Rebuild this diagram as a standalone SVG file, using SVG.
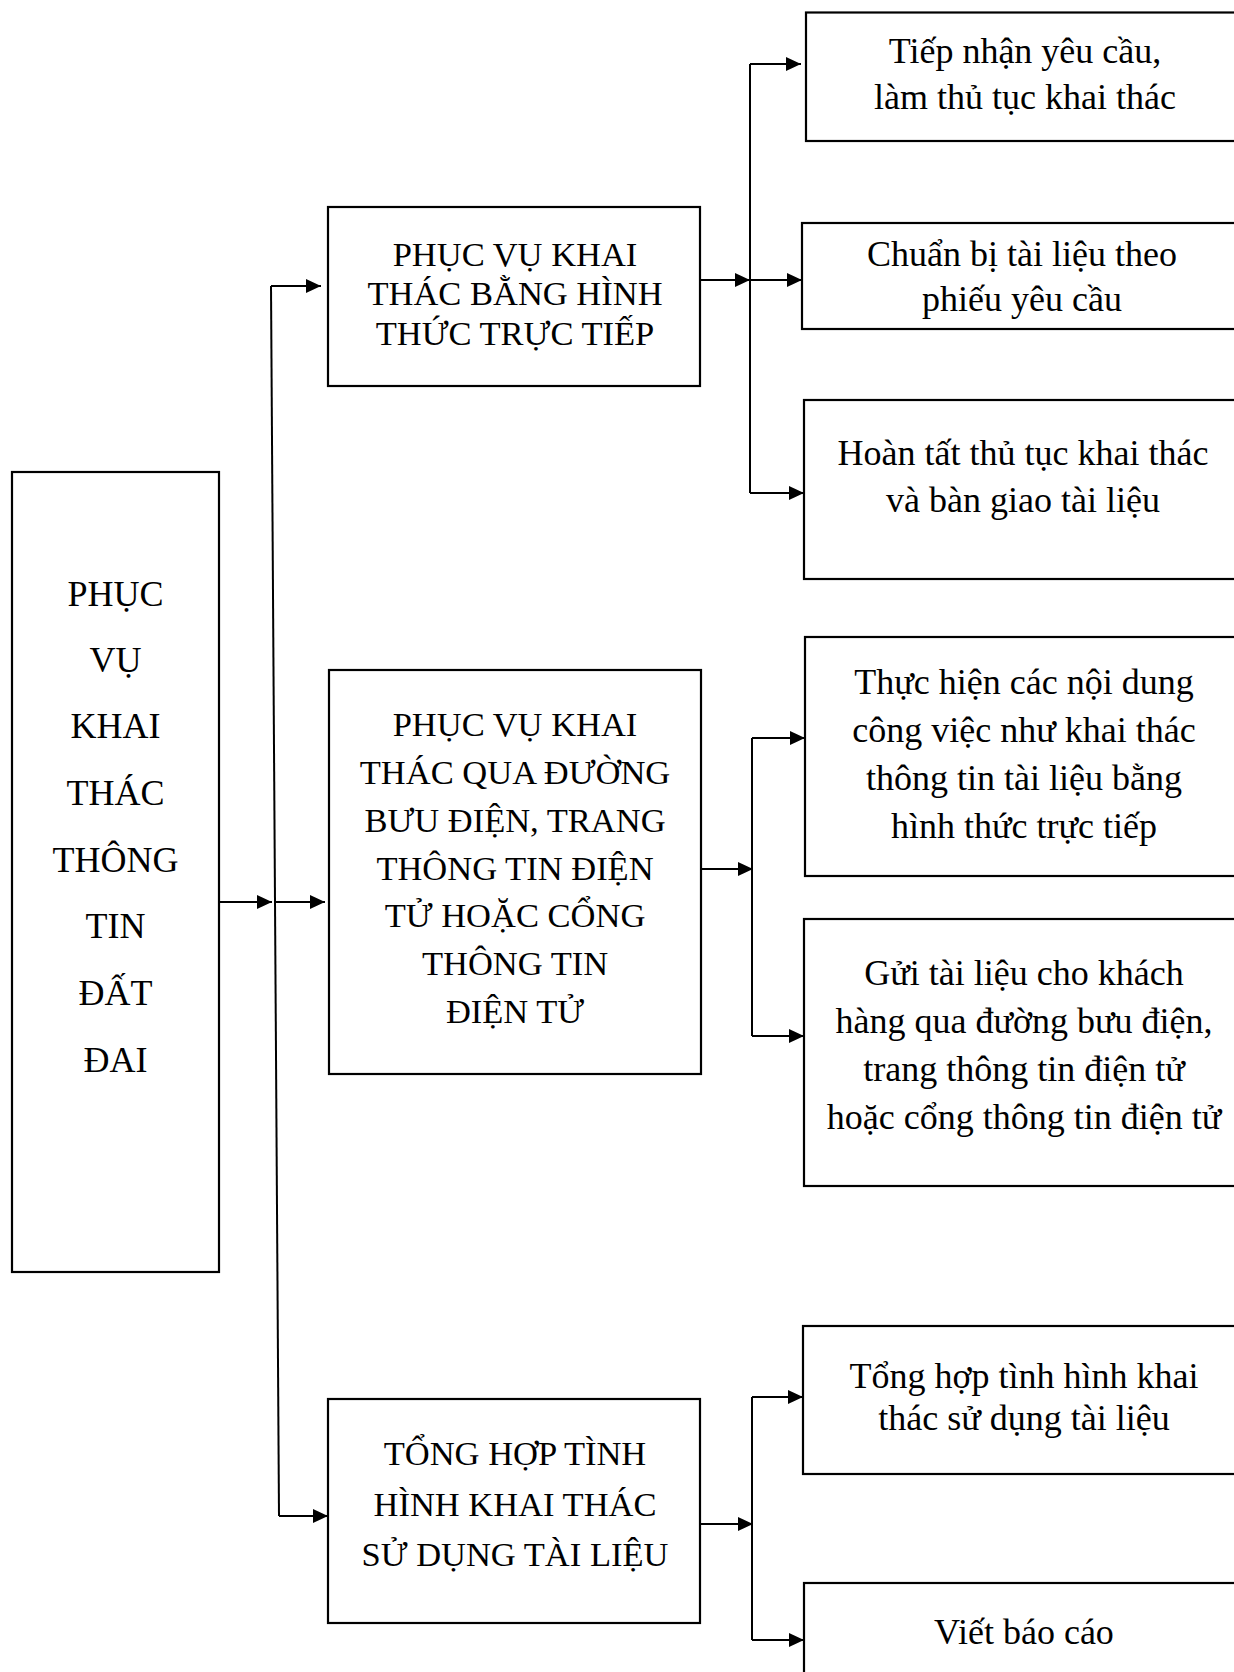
<svg xmlns="http://www.w3.org/2000/svg" width="1234" height="1672" viewBox="0 0 1234 1672">
<style>
.box{fill:#fff;stroke:#000;stroke-width:2.2}
.ln{fill:none;stroke:#000;stroke-width:2}
.t{font-family:"Liberation Serif","Times New Roman",serif;fill:#000;text-anchor:middle}
.up{font-size:34.5px}
.lo{font-size:36px}
.big{font-size:36px}
</style>
<defs>
<marker id="ah" markerUnits="userSpaceOnUse" markerWidth="16" markerHeight="14" refX="15" refY="7" orient="auto">
<path d="M0,0 L15,7 L0,14 z" fill="#000"/>
</marker>
</defs>
<rect width="1234" height="1672" fill="#fff"/>

<g id="connectors">
<path class="ln" d="M219,902 H272" marker-end="url(#ah)"/>
<path class="ln" d="M271,286 L279,1516"/>
<path class="ln" d="M271,286 H321" marker-end="url(#ah)"/>
<path class="ln" d="M275,902 H325" marker-end="url(#ah)"/>
<path class="ln" d="M279,1516 H328" marker-end="url(#ah)"/>

<path class="ln" d="M700,280 H750" marker-end="url(#ah)"/>
<path class="ln" d="M750,64 V493"/>
<path class="ln" d="M750,64 H801" marker-end="url(#ah)"/>
<path class="ln" d="M750,280 H802" marker-end="url(#ah)"/>
<path class="ln" d="M750,493 H804" marker-end="url(#ah)"/>

<path class="ln" d="M701,869 H753" marker-end="url(#ah)"/>
<path class="ln" d="M752,738 V1036"/>
<path class="ln" d="M752,738 H805" marker-end="url(#ah)"/>
<path class="ln" d="M752,1036 H804" marker-end="url(#ah)"/>

<path class="ln" d="M700,1524 H753" marker-end="url(#ah)"/>
<path class="ln" d="M752,1397 V1640"/>
<path class="ln" d="M752,1397 H803" marker-end="url(#ah)"/>
<path class="ln" d="M752,1640 H804" marker-end="url(#ah)"/>
</g>

<g id="root">
<rect class="box" x="12" y="472" width="207" height="800"/>
<text class="t big" x="115.5" y="606">PHỤC</text>
<text class="t big" x="115.5" y="672">VỤ</text>
<text class="t big" x="115.5" y="738">KHAI</text>
<text class="t big" x="115.5" y="805">THÁC</text>
<text class="t big" x="115.5" y="872">THÔNG</text>
<text class="t big" x="115.5" y="938">TIN</text>
<text class="t big" x="115.5" y="1005">ĐẤT</text>
<text class="t big" x="115.5" y="1072">ĐAI</text>
</g>

<g id="n1">
<rect class="box" x="328" y="207" width="372" height="179"/>
<text class="t up" x="515" y="266">PHỤC VỤ KHAI</text>
<text class="t up" x="515" y="305">THÁC BẰNG HÌNH</text>
<text class="t up" x="515" y="345">THỨC TRỰC TIẾP</text>
</g>

<g id="n2">
<rect class="box" x="329" y="670" width="372" height="404"/>
<text class="t up" x="515" y="736">PHỤC VỤ KHAI</text>
<text class="t up" x="515" y="784">THÁC QUA ĐƯỜNG</text>
<text class="t up" x="515" y="832">BƯU ĐIỆN, TRANG</text>
<text class="t up" x="515" y="880">THÔNG TIN ĐIỆN</text>
<text class="t up" x="515" y="927">TỬ HOẶC CỔNG</text>
<text class="t up" x="515" y="975">THÔNG TIN</text>
<text class="t up" x="515" y="1023">ĐIỆN TỬ</text>
</g>

<g id="n3">
<rect class="box" x="328" y="1399" width="372" height="224"/>
<text class="t up" x="515" y="1465">TỔNG HỢP TÌNH</text>
<text class="t up" x="515" y="1516">HÌNH KHAI THÁC</text>
<text class="t up" x="515" y="1566">SỬ DỤNG TÀI LIỆU</text>
</g>

<g id="r1">
<rect class="box" x="806" y="12.5" width="440" height="128.5"/>
<text class="t lo" x="1025" y="63">Tiếp nhận yêu cầu,</text>
<text class="t lo" x="1025" y="109">làm thủ tục khai thác</text>
</g>

<g id="r2">
<rect class="box" x="802" y="223" width="440" height="106"/>
<text class="t lo" x="1022" y="266">Chuẩn bị tài liệu theo</text>
<text class="t lo" x="1022" y="311">phiếu yêu cầu</text>
</g>

<g id="r3">
<rect class="box" x="804" y="400" width="440" height="179"/>
<text class="t lo" x="1023" y="465">Hoàn tất thủ tục khai thác</text>
<text class="t lo" x="1023" y="512">và bàn giao tài liệu</text>
</g>

<g id="r4">
<rect class="box" x="805" y="637" width="440" height="239"/>
<text class="t lo" x="1024" y="694">Thực hiện các nội dung</text>
<text class="t lo" x="1024" y="742">công việc như khai thác</text>
<text class="t lo" x="1024" y="790">thông tin tài liệu bằng</text>
<text class="t lo" x="1024" y="838">hình thức trực tiếp</text>
</g>

<g id="r5">
<rect class="box" x="804" y="919" width="440" height="267"/>
<text class="t lo" x="1024" y="985">Gửi tài liệu cho khách</text>
<text class="t lo" x="1024" y="1033">hàng qua đường bưu điện,</text>
<text class="t lo" x="1024" y="1081">trang thông tin điện tử</text>
<text class="t lo" x="1024" y="1129">hoặc cổng thông tin điện tử</text>
</g>

<g id="r6">
<rect class="box" x="803" y="1326" width="440" height="148"/>
<text class="t lo" x="1024" y="1388">Tổng hợp tình hình khai</text>
<text class="t lo" x="1024" y="1430">thác sử dụng tài liệu</text>
</g>

<g id="r7">
<rect class="box" x="804" y="1583" width="440" height="130"/>
<text class="t lo" x="1024" y="1644">Viết báo cáo</text>
</g>
</svg>
